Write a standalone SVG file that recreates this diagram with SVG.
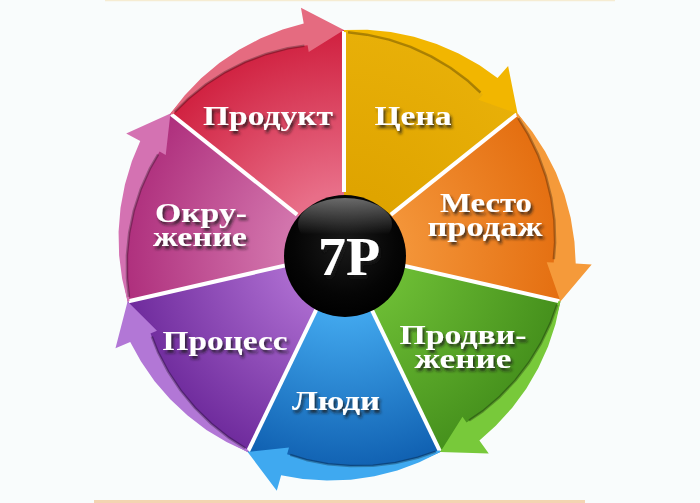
<svg xmlns="http://www.w3.org/2000/svg" xmlns:xlink="http://www.w3.org/1999/xlink" width="700" height="503" viewBox="0 0 700 503">
<style>
.lbl{font-family:"Liberation Serif","Times New Roman",serif;font-weight:bold;font-size:27px;fill:#ffffff;text-anchor:middle;filter:url(#ts)}
.big{font-size:54px}
.sep{stroke:#ffffff;stroke-width:4;stroke-linecap:butt}
.edge{fill:none;stroke:#000000;stroke-opacity:0.28;stroke-width:2.5;stroke-linejoin:round}
</style>
<defs>
<filter id="ts" x="-20%" y="-30%" width="140%" height="170%">
<feDropShadow dx="2" dy="3" stdDeviation="1.8" flood-color="#1a1a1a" flood-opacity="0.8"/>
</filter>
<radialGradient id="gRed" gradientUnits="userSpaceOnUse" cx="0" cy="0" r="222"><stop offset="0.28" stop-color="#e86e88"/><stop offset="1" stop-color="#d0203f"/></radialGradient>
<radialGradient id="gGold" gradientUnits="userSpaceOnUse" cx="0" cy="0" r="222"><stop offset="0.28" stop-color="#dfa400"/><stop offset="1" stop-color="#e8b008"/></radialGradient>
<radialGradient id="gOrange" gradientUnits="userSpaceOnUse" cx="0" cy="0" r="222"><stop offset="0.28" stop-color="#f39438"/><stop offset="1" stop-color="#e46e10"/></radialGradient>
<radialGradient id="gGreen" gradientUnits="userSpaceOnUse" cx="0" cy="0" r="222"><stop offset="0.28" stop-color="#6cbc34"/><stop offset="1" stop-color="#45901c"/></radialGradient>
<radialGradient id="gBlue" gradientUnits="userSpaceOnUse" cx="0" cy="0" r="222"><stop offset="0.28" stop-color="#42a8ee"/><stop offset="1" stop-color="#0f5fb0"/></radialGradient>
<radialGradient id="gPurple" gradientUnits="userSpaceOnUse" cx="0" cy="0" r="222"><stop offset="0.28" stop-color="#aa6ace"/><stop offset="1" stop-color="#6e2a9c"/></radialGradient>
<radialGradient id="gMagenta" gradientUnits="userSpaceOnUse" cx="0" cy="0" r="222"><stop offset="0.28" stop-color="#d274ac"/><stop offset="1" stop-color="#ae2e7c"/></radialGradient>
<radialGradient id="gBall" cx="0.5" cy="0.4" r="0.6"><stop offset="0" stop-color="#1a1a1a"/><stop offset="0.7" stop-color="#050505"/><stop offset="1" stop-color="#000000"/></radialGradient>
<linearGradient id="gShine" x1="0" y1="0" x2="0" y2="1"><stop offset="0" stop-color="#ffffff" stop-opacity="0.4"/><stop offset="0.7" stop-color="#ffffff" stop-opacity="0"/></linearGradient>
<path id="sector" d="M0,0 L0,-222 A222,222 0 0 1 173.57,-138.41 Z"/>
<path id="band" d="M0,-222 L23.36,-222.23 L46.76,-219.99 L69.95,-215.27 L92.65,-208.10 L114.62,-198.53 L135.60,-186.63 L153.52,-173.94 L164.11,-185.94 L173.57,-138.41 L134.33,-152.20 L138.96,-157.45 L124.21,-170.95 L106.38,-184.26 L87.13,-195.69 L66.64,-205.10 L45.14,-212.36 L22.85,-217.35 L0,-220 Z"/>
<path id="bandEdge" d="M4,-219.7 L22.85,-217.35 L45.14,-212.36 L66.64,-205.10 L87.13,-195.69 L106.38,-184.26 L124.21,-170.95 L136.5,-159.5"/>
<line id="sepLine" x1="0" y1="-60" x2="0" y2="-221"/>
</defs>
<rect width="700" height="503" fill="#f9fcfc"/>
<line x1="105" y1="0.5" x2="615" y2="0.5" stroke="#f6ecd2" stroke-width="1.5"/>
<line x1="94" y1="501.5" x2="585" y2="501.5" stroke="#f3d4b2" stroke-width="3"/>

<g id="node-produkt">
<use xlink:href="#sector" href="#sector" transform="translate(344,252) rotate(308.57)" fill="url(#gRed)"/>
<text class="lbl" x="268" y="125" textLength="130" lengthAdjust="spacingAndGlyphs">Продукт</text>
</g>
<g id="node-tsena">
<use xlink:href="#sector" href="#sector" transform="translate(344,252)" fill="url(#gGold)"/>
<text class="lbl" x="413" y="125" textLength="77" lengthAdjust="spacingAndGlyphs">Цена</text>
</g>
<g id="node-mesto">
<use xlink:href="#sector" href="#sector" transform="translate(344,252) rotate(51.43)" fill="url(#gOrange)"/>
<text class="lbl" x="486" y="212" textLength="92" lengthAdjust="spacingAndGlyphs">Место</text>
<text class="lbl" x="485" y="236" textLength="115" lengthAdjust="spacingAndGlyphs">продаж</text>
</g>
<g id="node-prodvizhenie">
<use xlink:href="#sector" href="#sector" transform="translate(344,252) rotate(102.86)" fill="url(#gGreen)"/>
<text class="lbl" x="463" y="344" textLength="127" lengthAdjust="spacingAndGlyphs">Продви-</text>
<text class="lbl" x="463" y="368" textLength="97" lengthAdjust="spacingAndGlyphs">жение</text>
</g>
<g id="node-lyudi">
<use xlink:href="#sector" href="#sector" transform="translate(344,252) rotate(154.29)" fill="url(#gBlue)"/>
<text class="lbl" x="336" y="410" textLength="88" lengthAdjust="spacingAndGlyphs">Люди</text>
</g>
<g id="node-protsess">
<use xlink:href="#sector" href="#sector" transform="translate(344,252) rotate(205.71)" fill="url(#gPurple)"/>
<text class="lbl" x="225" y="350" textLength="125" lengthAdjust="spacingAndGlyphs">Процесс</text>
</g>
<g id="node-okruzhenie">
<use xlink:href="#sector" href="#sector" transform="translate(344,252) rotate(257.14)" fill="url(#gMagenta)"/>
<text class="lbl" x="201" y="222" textLength="92" lengthAdjust="spacingAndGlyphs">Окру-</text>
<text class="lbl" x="200" y="246" textLength="94" lengthAdjust="spacingAndGlyphs">жение</text>
</g>

<g id="separators" class="sep">
<use xlink:href="#sepLine" href="#sepLine" transform="translate(344,252)"/>
<use xlink:href="#sepLine" href="#sepLine" transform="translate(344,252) rotate(51.43)"/>
<use xlink:href="#sepLine" href="#sepLine" transform="translate(344,252) rotate(102.86)"/>
<use xlink:href="#sepLine" href="#sepLine" transform="translate(344,252) rotate(154.29)"/>
<use xlink:href="#sepLine" href="#sepLine" transform="translate(344,252) rotate(205.71)"/>
<use xlink:href="#sepLine" href="#sepLine" transform="translate(344,252) rotate(257.14)"/>
<use xlink:href="#sepLine" href="#sepLine" transform="translate(344,252) rotate(308.57)"/>
</g>

<g id="connectors">
<g transform="translate(344,252) rotate(308.57)"><use xlink:href="#band" href="#band" fill="#e56b80"/><use xlink:href="#bandEdge" href="#bandEdge" class="edge"/></g>
<g transform="translate(344,252)"><use xlink:href="#band" href="#band" fill="#f2b600"/><use xlink:href="#bandEdge" href="#bandEdge" class="edge"/></g>
<g transform="translate(344,252) rotate(51.43)"><use xlink:href="#band" href="#band" fill="#f59a3a"/><use xlink:href="#bandEdge" href="#bandEdge" class="edge"/></g>
<g transform="translate(344,252) rotate(102.86)"><use xlink:href="#band" href="#band" fill="#78c93a"/><use xlink:href="#bandEdge" href="#bandEdge" class="edge"/></g>
<g transform="translate(344,252) rotate(154.29)"><use xlink:href="#band" href="#band" fill="#3fa9f0"/><use xlink:href="#bandEdge" href="#bandEdge" class="edge"/></g>
<g transform="translate(344,252) rotate(205.71)"><use xlink:href="#band" href="#band" fill="#b277d6"/><use xlink:href="#bandEdge" href="#bandEdge" class="edge"/></g>
<g transform="translate(344,252) rotate(257.14)"><use xlink:href="#band" href="#band" fill="#d472b2"/><use xlink:href="#bandEdge" href="#bandEdge" class="edge"/></g>
</g>

<g id="node-7p">
<circle cx="345" cy="256" r="61" fill="url(#gBall)"/>
<ellipse cx="345" cy="224" rx="47" ry="26" fill="url(#gShine)"/>
<text class="lbl big" x="349" y="275" textLength="62" lengthAdjust="spacingAndGlyphs">7P</text>
</g>
</svg>
